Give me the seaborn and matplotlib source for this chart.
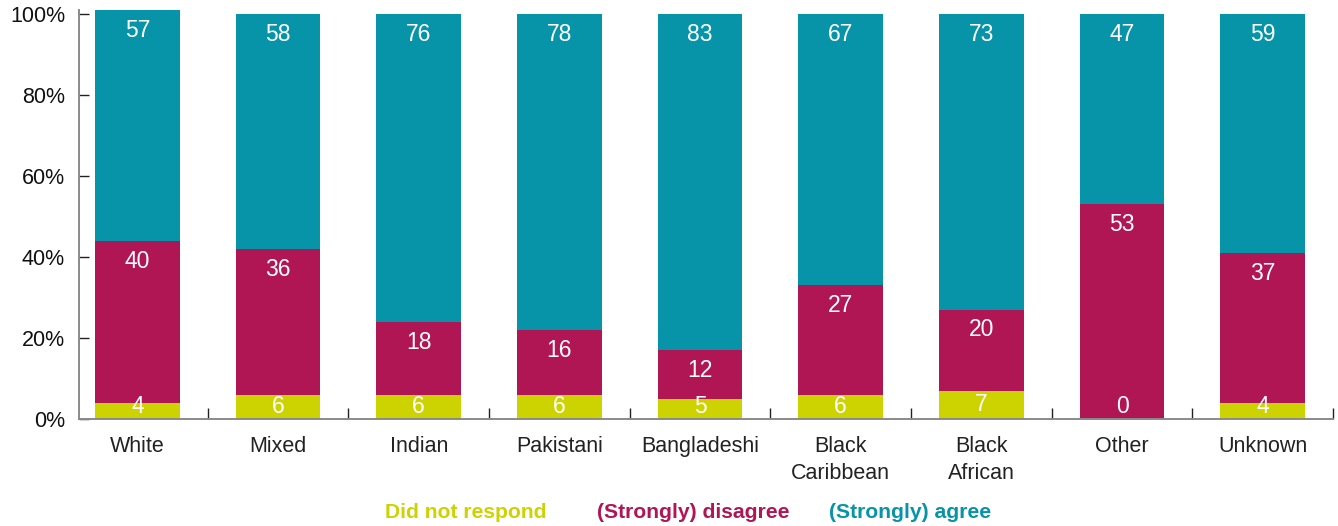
import matplotlib
matplotlib.use("Agg")
import matplotlib.pyplot as plt
import seaborn as sns
import numpy as np
import pandas as pd

# Survey responses by ethnic group (percent of respondents)
categories = ["White", "Mixed", "Indian", "Pakistani", "Bangladeshi",
              "Black\nCaribbean", "Black\nAfrican", "Other", "Unknown"]
no_response = [4, 6, 6, 6, 5, 6, 7, 0, 4]
disagree = [40, 36, 18, 16, 12, 27, 20, 53, 37]
agree = [57, 58, 76, 78, 83, 67, 73, 47, 59]

series_names = ["Did not respond", "(Strongly) disagree", "(Strongly) agree"]
yticks = [0, 20, 40, 60, 80, 100]
ytick_labels = ["0%", "20%", "40%", "60%", "80%", "100%"]

c_none = "#cdd300"
c_dis = "#b01654"
c_agree = "#0794a8"

sns.set_theme(style="white")
plt.rcParams["font.family"] = ["Liberation Sans", "DejaVu Sans"]

W, H = 1338, 526
fig = plt.figure(figsize=(W / 100, H / 100), dpi=100)
ax = fig.add_axes([79 / W, 1 - 419 / H, (1333 - 79) / W, (419 - 10) / H])

df = pd.DataFrame({
    "group": categories,
    "none": no_response,
    "dis": disagree,
    "agree": agree,
})
df["top_dis"] = df["none"] + df["dis"]
df["top_agree"] = df["top_dis"] + df["agree"]

# Stacked bars: draw cumulative totals from the tallest layer down
for col, color in [("top_agree", c_agree), ("top_dis", c_dis), ("none", c_none)]:
    sns.barplot(data=df, x="group", y=col, color=color, width=0.6,
                saturation=1, ax=ax, order=categories, linewidth=0)

# Value labels inside the segments
fs_val = 16.5
for i, row in df.iterrows():
    ax.text(i, row["top_agree"] - 5, f"{row['agree']}", ha="center", va="center",
            color="white", fontsize=fs_val)
    ax.text(i, row["top_dis"] - 5, f"{row['dis']}", ha="center", va="center",
            color="white", fontsize=fs_val)
    ax.text(i, max(row["none"] / 2, 3.2), f"{row['none']}", ha="center", va="center",
            color="white", fontsize=fs_val)

ax.set_xlim(-0.415, 8.48)
ax.set_ylim(0, 101)
ax.set_xlabel("")
ax.set_ylabel("")

ax.set_yticks(yticks)
ax.set_yticklabels(ytick_labels, fontsize=15.5)
ax.tick_params(axis="y", direction="in", length=7, width=1, color="#222222",
               left=True, pad=10, labelcolor="#111111")

ax.set_xticks(range(len(categories)))
ax.set_xticklabels(categories, fontsize=15.5, color="#222222", linespacing=1.4)
ax.tick_params(axis="x", which="major", length=0, pad=12)
ax.set_xticks(np.arange(len(categories)) + 0.5, minor=True)
ax.tick_params(axis="x", which="minor", direction="in", length=8, width=1,
               color="#222222", bottom=True)

for side in ["top", "right"]:
    ax.spines[side].set_visible(False)
for side in ["left", "bottom"]:
    ax.spines[side].set_color("#8a8a8a")
    ax.spines[side].set_linewidth(1.4)
ax.grid(False)

# Coloured text legend below the axis
legend_x = [385, 597, 829]
for name, color, x in zip(series_names, [c_none, c_dis, c_agree], legend_x):
    fig.text(x / W, 1 - 512 / H, name, color=color, fontsize=15.2,
             fontweight="bold", ha="left", va="center")

fig.savefig("out.png", dpi=100)
